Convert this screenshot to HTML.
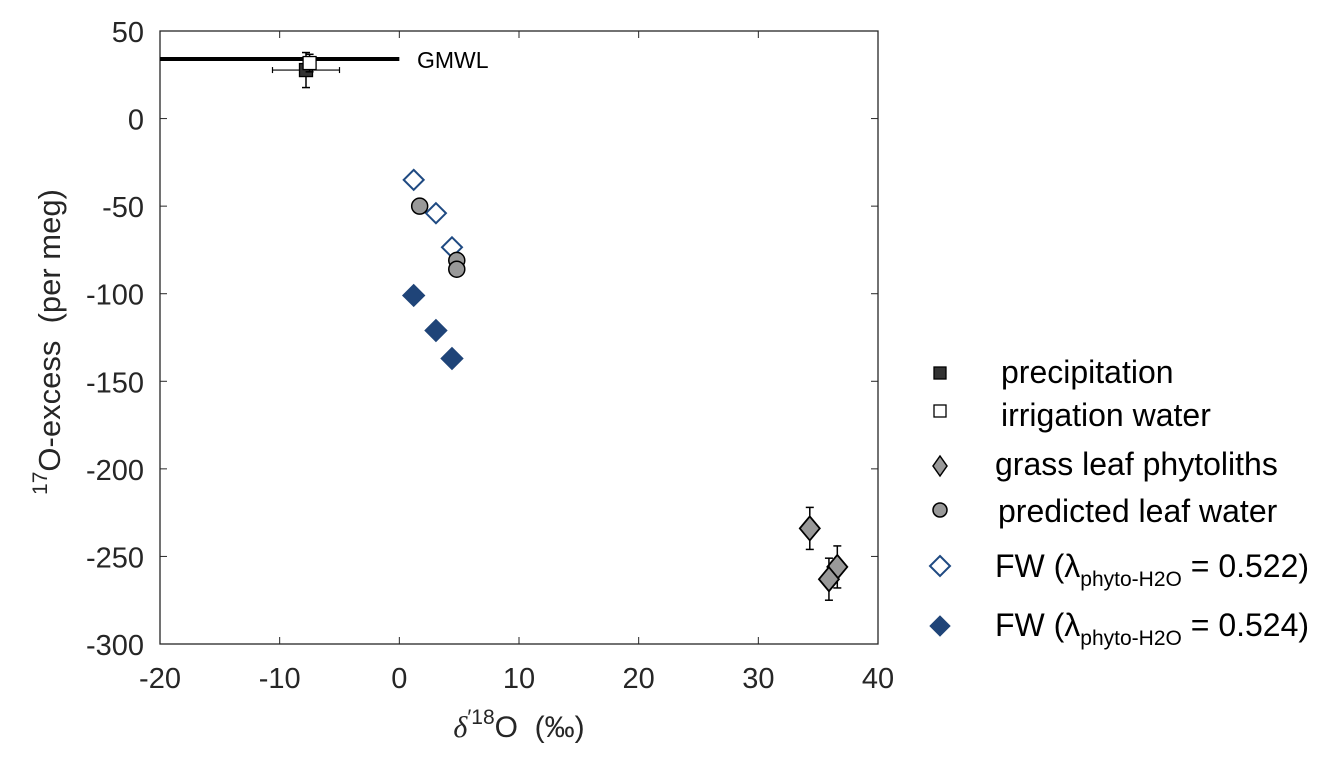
<!DOCTYPE html>
<html><head><meta charset="utf-8"><style>
body{margin:0;background:#fff}
svg{display:block;font-family:"Liberation Sans",sans-serif}
</style></head><body>
<svg id="chart" width="1338" height="769" viewBox="0 0 1338 769">
<g id="axes"></g>
<g id="marks"></g>
<g id="legend"></g>
</svg>
<script>
const xTicks=[-20,-10,0,10,20,30,40];
const yTicks=[50,0,-50,-100,-150,-200,-250,-300];
const gmwlValue=[34];
const precipX=[-7.8], precipY=[27.7], precipXErr=[2.8], precipYErr=[10];
const irrX=[-7.5], irrY=[31.7], irrXErr=[0], irrYErr=[5];
const phytoX=[34.3,36.6,35.9], phytoY=[-234,-256,-263], phytoYErr=[12,12,12];
const leafX=[1.7,4.8,4.8], leafY=[-50,-81,-86];
const fw522X=[1.2,3.06,4.4], fw522Y=[-35,-54,-73.5];
const fw524X=[1.2,3.06,4.4], fw524Y=[-101,-121,-137];

const NS="http://www.w3.org/2000/svg";
const L=160,R=878,T=31,B=644;
const xs=v=>L+(v+20)/60*(R-L);
const ys=v=>T+(50-v)/350*(B-T);
function mk(tag,attrs,parent){const e=document.createElementNS(NS,tag);for(const k in attrs)e.setAttribute(k,attrs[k]);parent.appendChild(e);return e;}
const axes=document.getElementById('axes'),marks=document.getElementById('marks'),leg=document.getElementById('legend');

let box=mk('rect',{x:L,y:T,width:R-L,height:B-T,fill:'none',stroke:'#262626','stroke-width':1.3},axes);


xTicks.forEach(t=>{
  const x=xs(t);
  mk('line',{x1:x,x2:x,y1:B,y2:B-7,stroke:'#262626'},axes);
  mk('line',{x1:x,x2:x,y1:T,y2:T+7,stroke:'#262626'},axes);
  let tx=mk('text',{x:x,y:B+44,'text-anchor':'middle','font-size':29,fill:'#262626'},axes);
  tx.textContent=t;
  
  
});
yTicks.forEach(t=>{
  const y=ys(t);
  mk('line',{x1:L,x2:L+7,y1:y,y2:y,stroke:'#262626'},axes);
  mk('line',{x1:R,x2:R-7,y1:y,y2:y,stroke:'#262626'},axes);
  let tx=mk('text',{x:L-16,y:y+11,'text-anchor':'end','font-size':29,fill:'#262626'},axes);
  tx.textContent=t;
  
  
});
let xt=mk('text',{x:519,y:737,'text-anchor':'middle','font-size':30,fill:'#262626'},axes);
xt.innerHTML='<tspan font-family="Liberation Serif" font-style="italic">δ</tspan><tspan dy="-13" font-size="21">′18</tspan><tspan dy="13">O&#160;&#160;(‰)</tspan>';


let yt=mk('text',{transform:'translate(60,342) rotate(-90)','text-anchor':'middle','font-size':31,fill:'#262626'},axes);
yt.innerHTML='<tspan dy="-13" font-size="21">17</tspan><tspan dy="13">O-excess&#160;&#160;(per meg)</tspan>';



let g=mk('line',{x1:xs(-20),x2:xs(0),y1:ys(gmwlValue[0]),y2:ys(gmwlValue[0]),stroke:'#000','stroke-width':4},marks);


let gl=mk('text',{x:417,y:ys(gmwlValue[0])+9,'font-size':23,fill:'#000'},marks);
gl.textContent='GMWL';



function errY(x,y,e){const X=xs(x);mk('line',{x1:X,x2:X,y1:ys(y+e),y2:ys(y-e),stroke:'#000','stroke-width':1.5},marks);
 [y+e,y-e].forEach(v=>mk('line',{x1:X-4,x2:X+4,y1:ys(v),y2:ys(v),stroke:'#000','stroke-width':1.5},marks));}
function errX(x,y,e){if(!e)return;const Y=ys(y);mk('line',{x1:xs(x-e),x2:xs(x+e),y1:Y,y2:Y,stroke:'#000','stroke-width':1.2},marks);
 [x-e,x+e].forEach(v=>mk('line',{x1:xs(v),x2:xs(v),y1:Y-3,y2:Y+3,stroke:'#000','stroke-width':1.2},marks));}
function sq(cx,cy,s,fill,p,name){let e=mk('rect',{x:cx-s/2,y:cy-s/2,width:s,height:s,fill:fill,stroke:'#000','stroke-width':1.3},p);return e;}
function dia(cx,cy,w,h,fill,stroke,sw,p,name){let e=mk('polygon',{points:`${cx},${cy-h} ${cx+w},${cy} ${cx},${cy+h} ${cx-w},${cy}`,fill:fill,stroke:stroke,'stroke-width':sw},p);return e;}
function circ(cx,cy,r,p,name){let e=mk('circle',{cx:cx,cy:cy,r:r,fill:'#999',stroke:'#000','stroke-width':1.5},p);return e;}

precipX.forEach((x,i)=>{errX(x,precipY[i],precipXErr[i]);errY(x,precipY[i],precipYErr[i]);sq(xs(x),ys(precipY[i]),13,'#333',marks,'precipitation-point');});
irrX.forEach((x,i)=>{errX(x,irrY[i],irrXErr[i]);errY(x,irrY[i],irrYErr[i]);sq(xs(x),ys(irrY[i]),13,'#fff',marks,'irrigation-point');});
fw522X.forEach((x,i)=>dia(xs(x),ys(fw522Y[i]),10,10,'#fff','#1f4a82',2,marks,'fw-0522-point'));
leafX.forEach((x,i)=>circ(xs(x),ys(leafY[i]),8,marks,'leaf-water-point'));
fw524X.forEach((x,i)=>dia(xs(x),ys(fw524Y[i]),11,11,'#1f4478','#1f4478',1,marks,'fw-0524-point'));
phytoX.forEach((x,i)=>{errY(x,phytoY[i],phytoYErr[i]);dia(xs(x),ys(phytoY[i]),10,12,'#999','#000',1.8,marks,'phytolith-point');});

const mx=940;
sq(mx,373,12,'#333',leg,'legend-marker-precipitation');
sq(mx,411,12,'#fff',leg,'legend-marker-irrigation');
dia(mx,466,7,10,'#999','#000',1.5,leg,'legend-marker-phytoliths');
circ(mx,510,7,leg,'legend-marker-leaf-water');
dia(mx,566,10,10,'#fff','#1f4a82',2,leg,'legend-marker-fw522');
dia(mx,626,10,10,'#1f4478','#1f4478',1,leg,'legend-marker-fw524');
const labs=[[1001,383,'precipitation'],[1001,426,'irrigation water'],[995,475,'grass leaf phytoliths'],[998,522,'predicted leaf water']];
labs.forEach(a=>{let t=mk('text',{x:a[0],y:a[1],'font-size':32,fill:'#000'},leg);t.textContent=a[2];});
[[577,'0.522'],[636,'0.524']].forEach(a=>{let t=mk('text',{x:995,y:a[0],'font-size':32,fill:'#000'},leg);
 t.innerHTML='FW (λ<tspan dy="9" font-size="21">phyto-H2O</tspan><tspan dy="-9"> = '+a[1]+')</tspan>';
 });
</script>
</body></html>
